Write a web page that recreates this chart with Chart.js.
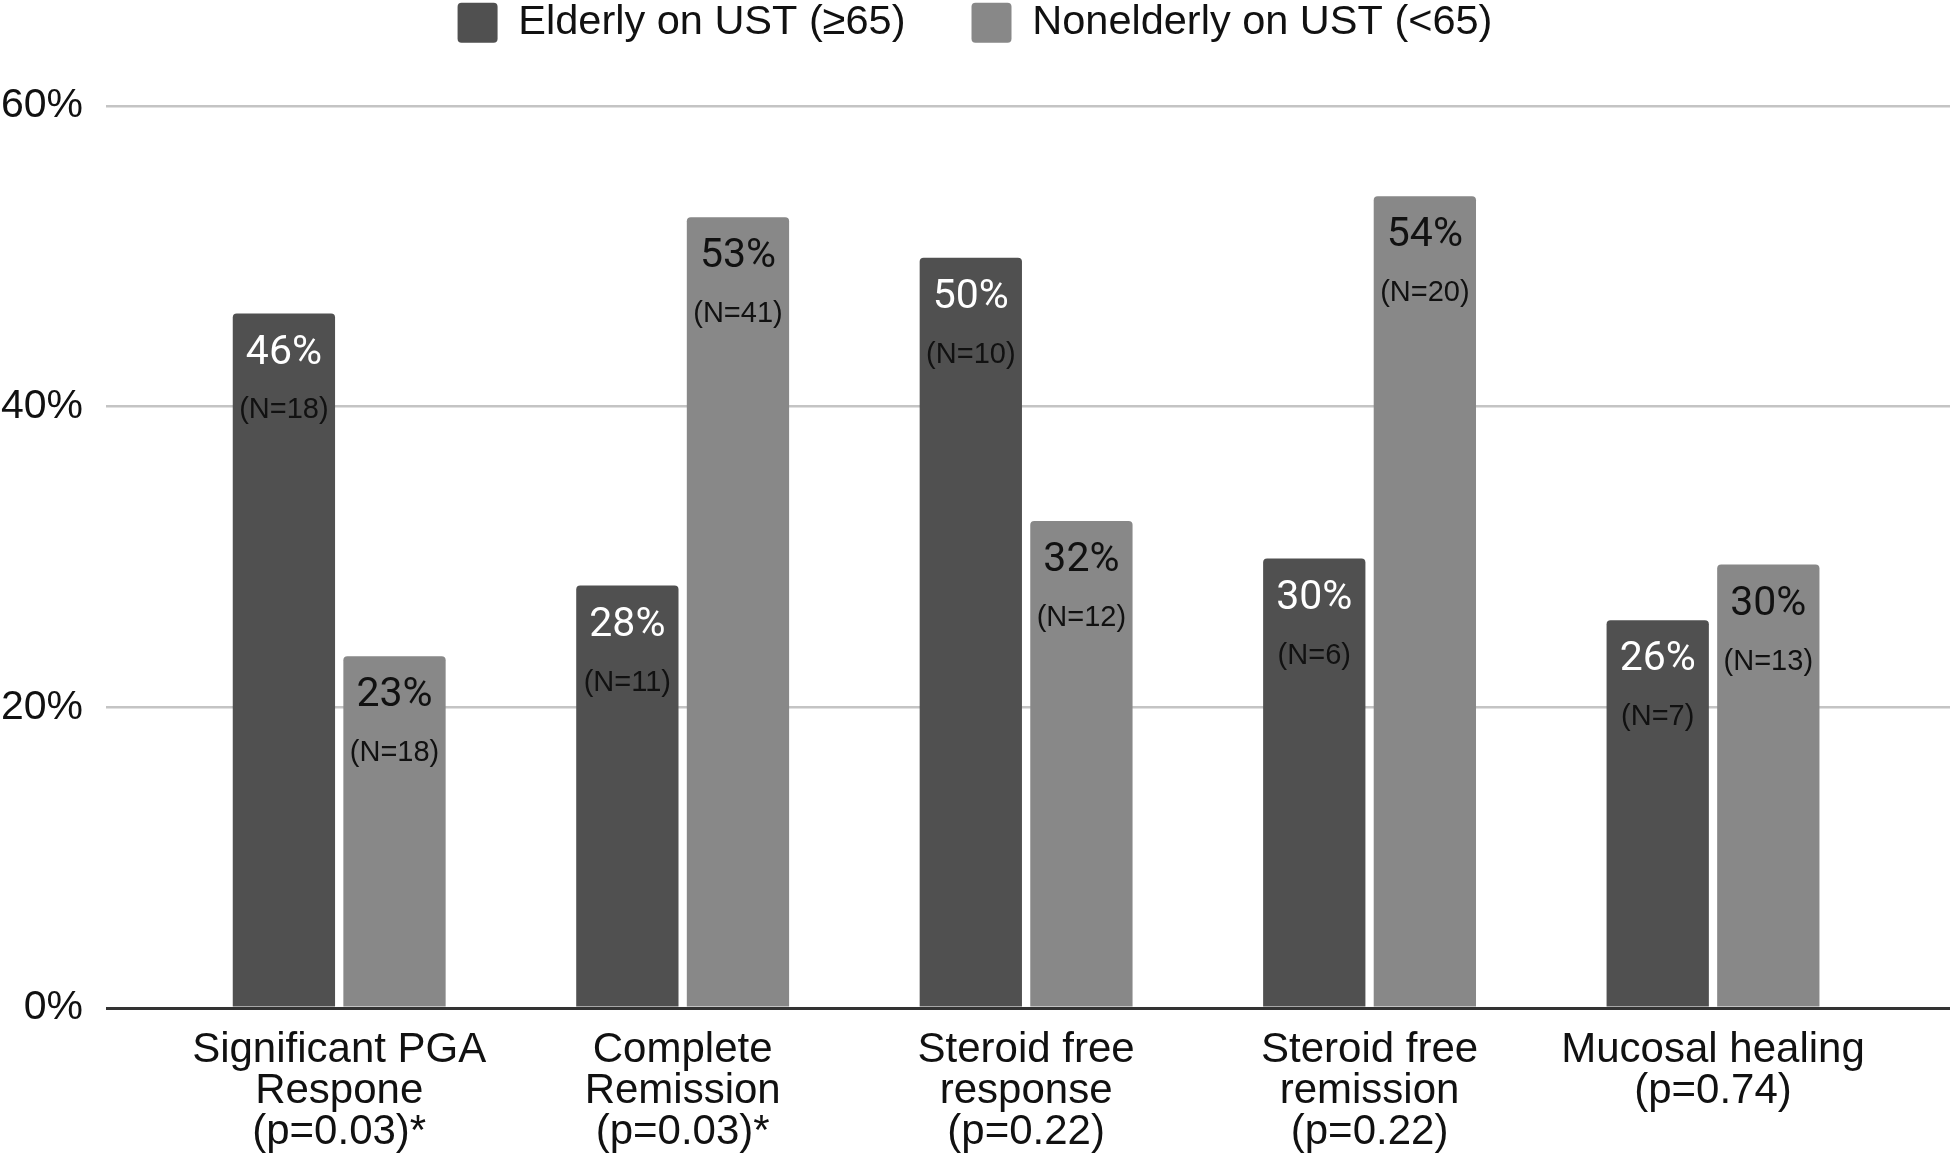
<!DOCTYPE html>
<html>
<head>
<meta charset="utf-8">
<script src="https://cdn.jsdelivr.net/npm/chart.js@4.4.1/dist/chart.umd.min.js"></script>
<style>
  html, body { margin: 0; padding: 0; background: #fff; overflow: hidden; }
  #wrap { position: relative; width: 1950px; height: 1157px; overflow: hidden; }
  #c { position: absolute; left: 0; top: -64px; }
</style>
</head>
<body>
<div id="wrap"><canvas id="c" width="1950" height="1221"></canvas></div>
<script>
// ---- data ----
const categories = [
  ["Significant PGA", "Respone", "(p=0.03)*"],
  ["Complete", "Remission", "(p=0.03)*"],
  ["Steroid free", "response", "(p=0.22)"],
  ["Steroid free", "remission", "(p=0.22)"],
  ["Mucosal healing", "(p=0.74)"]
];
const seriesNames = ["Elderly on UST (\u226565)", "Nonelderly on UST (<65)"];
const elderlyValues = [46.2, 28.1, 49.9, 29.9, 25.8];
const nonelderlyValues = [23.4, 52.6, 32.4, 54.0, 29.5];
const elderlyN = [18, 11, 10, 6, 7];
const nonelderlyN = [18, 41, 12, 20, 13];
const yTicks = [0, 20, 40, 60];

const toPoints = arr => arr.map((v, i) => ({ x: i, y: v }));

const barLabels = {
  id: 'barLabels',
  afterDatasetsDraw(chart) {
    const ctx = chart.ctx;
    chart.data.datasets.forEach((ds, di) => {
      const meta = chart.getDatasetMeta(di);
      meta.data.forEach((bar, i) => {
        const v = ds.data[i].y;
        ctx.save();
        ctx.textAlign = 'center';
        ctx.textBaseline = 'middle';
        ctx.font = '41px Roboto';
        ctx.fillStyle = ds.pctColor;
        ctx.fillText(Math.round(v) + '%', bar.x, bar.y + 40);
        ctx.font = '29px "Liberation Sans"';
        ctx.fillStyle = '#111';
        ctx.fillText('(N=' + ds.nValues[i] + ')', bar.x, bar.y + 97);
        ctx.restore();
      });
    });
  }
};

const legendSpace = {
  id: 'legendSpace',
  beforeInit(chart) {
    const orig = chart.legend.fit;
    chart.legend.fit = function () {
      orig.call(chart.legend);
      this.height = 170;
    };
  }
};

new Chart(document.getElementById('c'), {
  type: 'bar',
  data: {
    datasets: [
      {
        label: seriesNames[0],
        data: toPoints(elderlyValues),
        nValues: elderlyN,
        pctColor: '#ffffff',
        backgroundColor: '#505050',
        borderRadius: { topLeft: 4, topRight: 4, bottomLeft: 0, bottomRight: 0 },
        borderSkipped: 'start',
        categoryPercentage: 0.644,
        barPercentage: 0.925
      },
      {
        label: seriesNames[1],
        data: toPoints(nonelderlyValues),
        nValues: nonelderlyN,
        pctColor: '#111111',
        backgroundColor: '#888888',
        borderRadius: { topLeft: 4, topRight: 4, bottomLeft: 0, bottomRight: 0 },
        borderSkipped: 'start',
        categoryPercentage: 0.644,
        barPercentage: 0.925
      }
    ]
  },
  options: {
    responsive: false,
    animation: false,
    devicePixelRatio: 1,
    layout: { padding: 0 },
    plugins: {
      legend: {
        display: true,
        position: 'top',
        labels: {
          boxWidth: 40,
          boxHeight: 40,
          padding: 66,
          useBorderRadius: true,
          borderRadius: 4,
          color: '#111',
          font: { family: '"Liberation Sans", Arial, sans-serif', size: 41.5 }
        }
      },
      tooltip: { enabled: false }
    },
    scales: {
      x: {
        type: 'linear',
        offset: false,
        min: -0.679,
        max: 4.690,
        afterBuildTicks: (scale) => {
          scale.ticks = categories.map((c, i) => ({ value: i }));
        },
        afterFit: (scale) => { scale.height = 149; },
        grid: { display: false, drawTicks: false, offset: false },
        border: { display: false },
        ticks: {
          autoSkip: false,
          maxRotation: 0,
          minRotation: 0,
          padding: 22,
          color: '#111',
          font: { family: '"Liberation Sans", Arial, sans-serif', size: 42, lineHeight: 0.98 },
          callback: (value) => categories[value] || ''
        }
      },
      y: {
        min: 0,
        max: 60,
        afterBuildTicks: (scale) => {
          scale.ticks = yTicks.map(v => ({ value: v }));
        },
        afterFit: (scale) => { scale.width = 106; },
        grid: {
          drawTicks: false,
          color: (c) => (c.tick && c.tick.value === 0) ? '#333333' : '#c4c4c4',
          lineWidth: (c) => (c.tick && c.tick.value === 0) ? 3 : 2.5
        },
        border: { display: false },
        ticks: {
          padding: 23,
          color: '#111',
          font: { family: '"Liberation Sans", Arial, sans-serif', size: 41 },
          callback: (v) => v + '%'
        }
      }
    }
  },
  plugins: [barLabels, legendSpace]
});
</script>
</body>
</html>
